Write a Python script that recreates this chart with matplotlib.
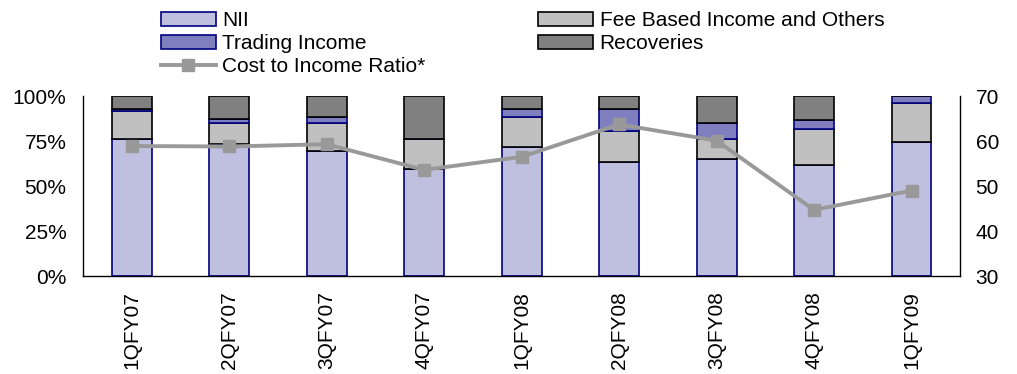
import matplotlib
matplotlib.use("Agg")
import matplotlib.pyplot as plt
import numpy as np
from matplotlib.ticker import FuncFormatter

plt.rcParams['font.family'] = ['Liberation Sans', 'DejaVu Sans']

quarters = ["1QFY07", "2QFY07", "3QFY07", "4QFY07", "1QFY08",
            "2QFY08", "3QFY08", "4QFY08", "1QFY09"]

# Share of total income (%)
nii = [76.1, 73.3, 69.4, 59.4, 71.8, 63.2, 65.0, 61.7, 74.3]
fee_based = [15.6, 11.5, 15.4, 16.7, 16.7, 17.5, 11.1, 20.0, 21.7]
trading = [1.1, 2.3, 3.4, 0.0, 4.3, 12.1, 8.7, 5.3, 4.0]
recoveries = [7.2, 12.9, 11.8, 23.9, 7.2, 7.2, 15.2, 13.0, 0.0]

# Cost to income ratio (%)
cost_to_income = [58.9, 58.8, 59.3, 53.6, 56.5, 63.7, 60.1, 44.7, 49.0]

fig = plt.figure(figsize=(10.17, 3.74), dpi=100)
ax = fig.add_axes([0.0816, 0.262, 0.8626, 0.481])

x = np.arange(len(quarters))
width = 0.41

nii_a = np.array(nii) / 100
fee_a = np.array(fee_based) / 100
trd_a = np.array(trading) / 100
rec_a = np.array(recoveries) / 100

b_nii = ax.bar(x, nii_a, width, color="#BFBFDF", edgecolor="#000080",
               linewidth=1.2, label="NII")
b_fee = ax.bar(x, fee_a, width, bottom=nii_a, color="#C0C0C0",
               edgecolor="black", linewidth=1.2,
               label="Fee Based Income and Others")
b_trd = ax.bar(x, trd_a, width, bottom=nii_a + fee_a, color="#7F7FBF",
               edgecolor="#000080", linewidth=1.2, label="Trading Income")
b_rec = ax.bar(x, rec_a, width, bottom=nii_a + fee_a + trd_a,
               color="#808080", edgecolor="black", linewidth=1.2,
               label="Recoveries")

ax.set_xlim(-0.5, len(quarters) - 0.5)
ax.set_ylim(0, 1)
ax.set_yticks([0, 0.25, 0.5, 0.75, 1.0])
ax.yaxis.set_major_formatter(FuncFormatter(lambda v, _: f"{v * 100:.0f}%"))
ax.set_xticks(x)
ax.set_xticklabels(quarters, rotation=90)
ax.tick_params(axis="y", length=0, pad=12, labelsize=15)
ax.tick_params(axis="x", length=0, pad=11, labelsize=15)
ax.spines["top"].set_visible(False)
ax.spines["right"].set_visible(False)
for s in ("left", "bottom"):
    ax.spines[s].set_linewidth(1.0)

ax2 = ax.twinx()
line, = ax2.plot(x, cost_to_income, color="#999999", linewidth=2.8,
                 marker="s", markersize=8.5, markeredgecolor="#999999",
                 label="Cost to Income Ratio*")
ax2.set_ylim(30, 70)
ax2.set_yticks([30, 40, 50, 60, 70])
ax2.tick_params(axis="y", length=0, pad=11, labelsize=15)
ax2.spines["top"].set_visible(False)
ax2.spines["left"].set_visible(False)
ax2.spines["bottom"].set_visible(False)
ax2.spines["right"].set_linewidth(1.0)

handles = [b_nii, b_trd, line, b_fee, b_rec]
labels = [h.get_label() for h in handles]
fig.legend(handles, labels, ncol=2, loc="upper left",
           bbox_to_anchor=(0.150, 0.992), frameon=False, fontsize=15,
           handlelength=2.65, handleheight=0.65, handletextpad=0.3,
           labelspacing=0.18, columnspacing=5.4, borderaxespad=0.0)

fig.savefig("out.png", dpi=100)
